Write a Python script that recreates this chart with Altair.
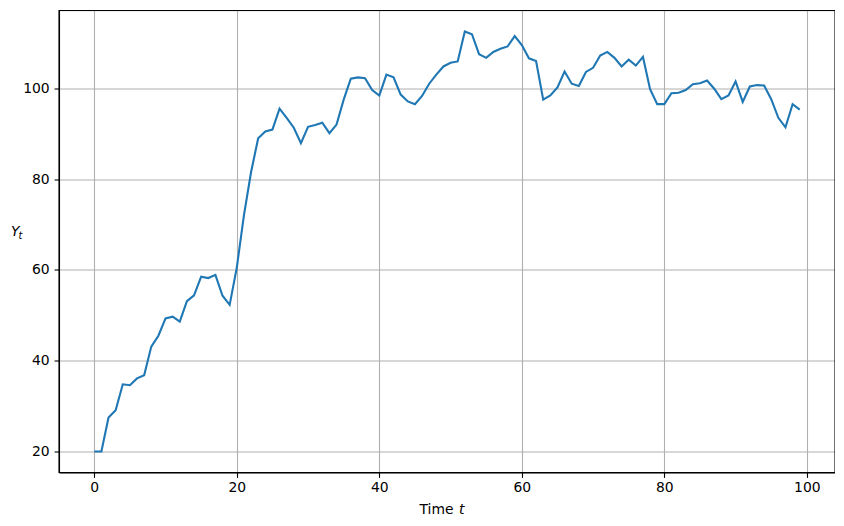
import altair as alt
import pandas as pd

t_values = list(range(100))
y_values = [
    20.0, 20.0, 27.5, 29.1, 34.8, 34.6, 36.1, 36.8, 43.1, 45.5,
    49.3, 49.7, 48.6, 53.1, 54.4, 58.5, 58.2, 58.9, 54.3, 52.3,
    60.5, 72.0, 81.5, 89.0, 90.5, 90.9, 95.5, 93.5, 91.3, 87.9,
    91.5, 91.9, 92.4, 90.1, 92.0, 97.5, 102.1, 102.4, 102.2, 99.6,
    98.4, 103.0, 102.4, 98.6, 97.1, 96.5, 98.3, 101.0, 103.0, 104.8,
    105.6, 105.9, 112.5, 111.9, 107.5, 106.7, 108.0, 108.7, 109.2, 111.5,
    109.5, 106.6, 106.0, 97.5, 98.4, 100.2, 103.7, 101.0, 100.5, 103.6,
    104.5, 107.2, 108.0, 106.7, 104.8, 106.3, 105.0, 106.9, 99.8, 96.5,
    96.5, 98.9, 99.0, 99.6, 100.9, 101.1, 101.7, 99.9, 97.6, 98.4,
    101.5, 97.0, 100.4, 100.7, 100.6, 97.6, 93.5, 91.4, 96.5, 95.3,
]
x_ticks = [0, 20, 40, 60, 80, 100]
y_ticks = [20, 40, 60, 80, 100]

df = pd.DataFrame({"t": t_values, "y": y_values})

W, H = 776, 462
FONT = "DejaVu Sans"
FS = 13.9

axis_common = dict(
    title=None, grid=True, gridColor="#b0b0b0", gridWidth=1.1,
    domainColor="black", domainWidth=1.1,
    tickColor="black", tickSize=4.9, tickWidth=1.1,
    labelFont=FONT, labelFontSize=FS, labelColor="black", format="d",
)

line = alt.Chart(df).mark_line(color="#1f77b4", strokeWidth=2.1).encode(
    x=alt.X("t:Q", scale=alt.Scale(domain=[-4.95, 103.95], nice=False, zero=False),
            axis=alt.Axis(values=x_ticks, labelPadding=3, **axis_common)),
    y=alt.Y("y:Q", scale=alt.Scale(domain=[15.375, 117.125], nice=False, zero=False),
            axis=alt.Axis(values=y_ticks, labelPadding=4.9, **axis_common)),
)

frame = alt.Chart().mark_rect(fill=None, stroke="black", strokeWidth=1.1).encode(
    x=alt.value(0), x2=alt.value(W), y=alt.value(0), y2=alt.value(H))

xt1 = alt.Chart().mark_text(font=FONT, fontSize=FS, color="black", align="right",
                            baseline="alphabetic").encode(
    x=alt.value(394.5), y=alt.value(H + 41), text=alt.value("Time"))
xt2 = alt.Chart().mark_text(font=FONT, fontSize=FS, color="black", align="left",
                            baseline="alphabetic", fontStyle="italic").encode(
    x=alt.value(400), y=alt.value(H + 41), text=alt.value("t"))
yt1 = alt.Chart().mark_text(font=FONT, fontSize=FS, color="black", align="left",
                            baseline="alphabetic", fontStyle="italic").encode(
    x=alt.value(-48), y=alt.value(225), text=alt.value("Y"))
yt2 = alt.Chart().mark_text(font=FONT, fontSize=9.7, color="black", align="left",
                            baseline="alphabetic", fontStyle="italic").encode(
    x=alt.value(-40.5), y=alt.value(228), text=alt.value("t"))

chart = alt.layer(line, frame, xt1, xt2, yt1, yt2).properties(
    width=W, height=H,
    autosize=alt.AutoSizeParams(type="none"),
    padding={"left": 51, "top": 2.5, "right": 0, "bottom": 45},
).configure_view(stroke=None).configure(background="white")

chart.save("out.html", embed_options={"renderer": "svg", "actions": False})
